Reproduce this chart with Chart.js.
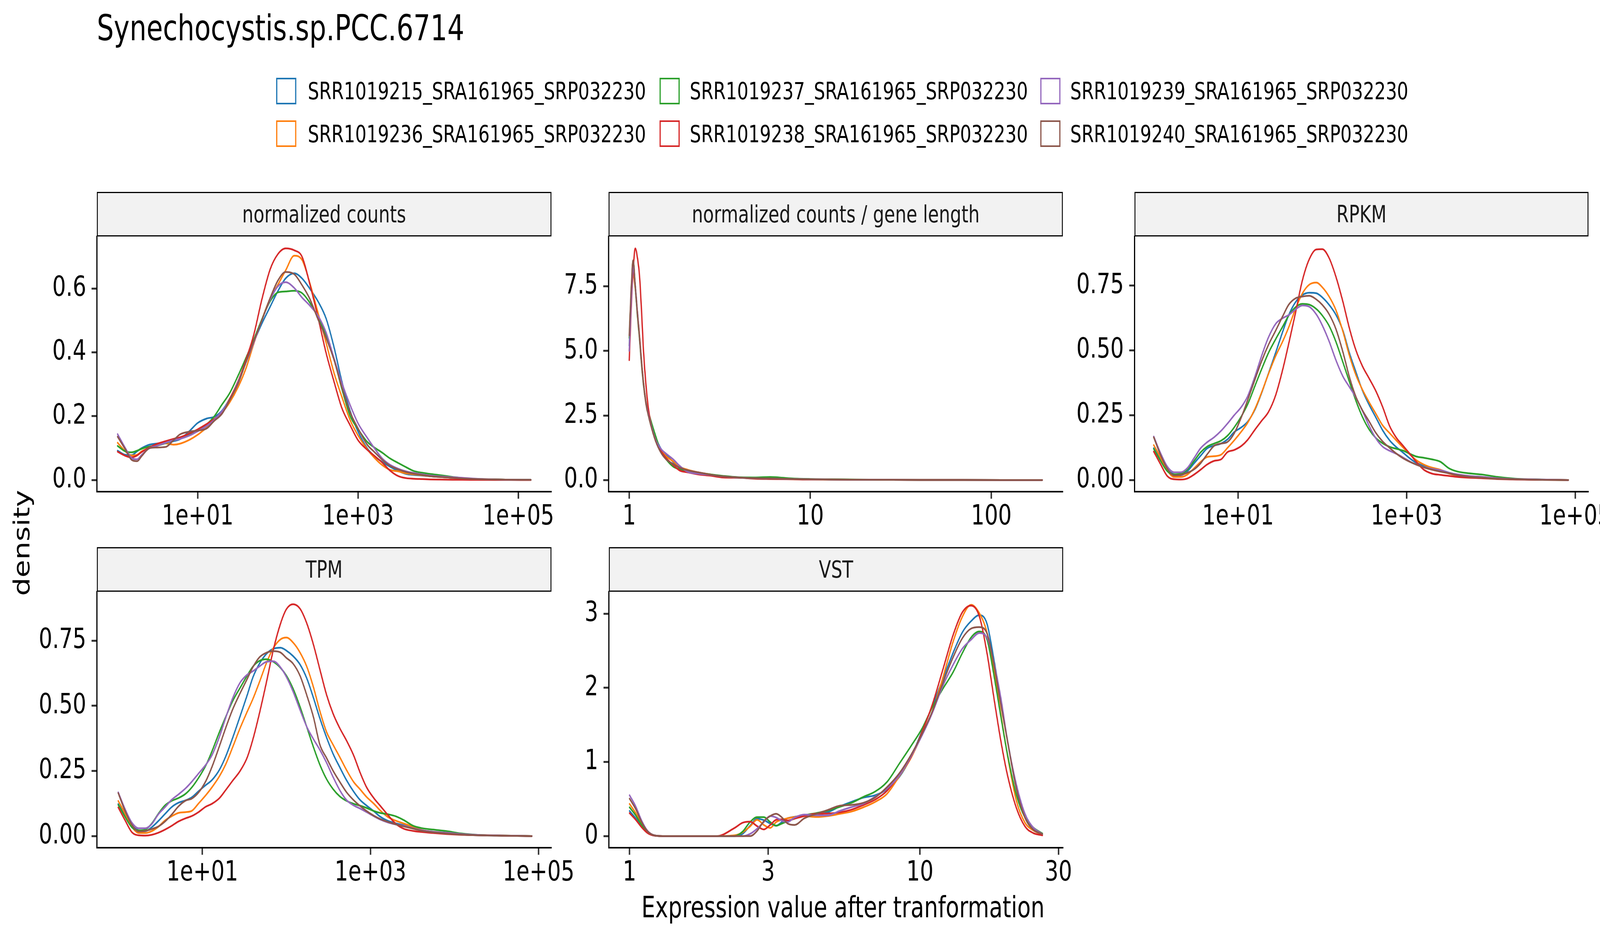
<!DOCTYPE html>
<html>
<head>
<meta charset="utf-8">
<title>Synechocystis.sp.PCC.6714</title>
<script src="https://cdn.jsdelivr.net/npm/chart.js@4.4.1/dist/chart.umd.min.js"></script>
<style>
  html, body { margin:0; padding:0; background:#ffffff; }
  body { position:relative; width:100vw; height:100vh; overflow:hidden; font-family:'DejaVu Sans', sans-serif; }
  #root { position:absolute; left:0; top:0; width:5400px; height:2400px; transform-origin:0 0; background:#ffffff; }
  canvas { position:absolute; }
  .t { position:absolute; white-space:nowrap; line-height:1; color:#000000; font-family:'DejaVu Sans', sans-serif; }
  .strip { position:absolute; box-sizing:border-box; background:#F2F2F2; border:3px solid #000000; font-size:60px; line-height:1; color:#1A1A1A; display:flex; align-items:center; justify-content:center; white-space:nowrap; font-family:'DejaVu Sans', sans-serif; }
  .key { position:absolute; box-sizing:border-box; width:68px; height:68px; background:#ffffff; border-style:solid; border-width:4.5px; }
</style>
</head>
<body>
<div id="root"></div>
<script>
// ---------------- DATA ----------------
const seriesNames = ['SRR1019215_SRA161965_SRP032230','SRR1019236_SRA161965_SRP032230','SRR1019237_SRA161965_SRP032230','SRR1019238_SRA161965_SRP032230','SRR1019239_SRA161965_SRP032230','SRR1019240_SRA161965_SRP032230'];
const plotTitle = 'Synechocystis.sp.PCC.6714';
const panelTitles = ['normalized counts','normalized counts / gene length','RPKM','TPM','VST'];
const xAxisTitle = 'Expression value after tranformation';
const yAxisTitle = 'density';

const logTicks = [10, 1000, 100000];
const logTickLabels = ['1e+01','1e+03','1e+05'];
const perLenXTicks = [1, 10, 100];
const perLenXTickLabels = ['1','10','100'];
const vstXTicks = [1, 3, 10, 30];
const vstXTickLabels = ['1','3','10','30'];
const countsYTicks = [0, 0.2, 0.4, 0.6];
const countsYTickLabels = ['0.0','0.2','0.4','0.6'];
const perLenYTicks = [0, 2.5, 5, 7.5];
const perLenYTickLabels = ['0.0','2.5','5.0','7.5'];
const rpkmYTicks = [0, 0.25, 0.5, 0.75];
const rpkmYTickLabels = ['0.00','0.25','0.50','0.75'];
const vstYTicks = [0, 1, 2, 3];
const vstYTickLabels = ['0','1','2','3'];

// normalized counts
const countsX = [1, 1.25, 1.5, 1.75, 2, 2.5, 3, 4, 5, 6, 8, 10, 13, 16, 20, 25, 32, 40, 50, 63, 80, 100, 125, 160, 200, 250, 320, 400, 500, 630, 800, 1000, 1300, 1600, 2000, 2500, 3200, 4000, 5000, 6300, 8000, 10000, 15000, 20000, 30000, 50000, 80000, 143000];
const counts215 = [0.092, 0.079, 0.078, 0.090, 0.100, 0.111, 0.114, 0.117, 0.122, 0.128, 0.155, 0.179, 0.193, 0.198, 0.217, 0.254, 0.310, 0.371, 0.432, 0.490, 0.543, 0.592, 0.632, 0.648, 0.632, 0.600, 0.558, 0.506, 0.418, 0.308, 0.215, 0.152, 0.100, 0.075, 0.057, 0.042, 0.028, 0.019, 0.016, 0.014, 0.012, 0.010, 0.007, 0.005, 0.003, 0.002, 0.001, 0.0005];
const counts236 = [0.117, 0.090, 0.077, 0.079, 0.090, 0.100, 0.109, 0.115, 0.111, 0.114, 0.127, 0.142, 0.165, 0.185, 0.210, 0.243, 0.292, 0.350, 0.427, 0.502, 0.569, 0.612, 0.657, 0.703, 0.690, 0.618, 0.520, 0.430, 0.337, 0.260, 0.187, 0.140, 0.097, 0.070, 0.047, 0.032, 0.027, 0.021, 0.018, 0.015, 0.012, 0.010, 0.007, 0.005, 0.003, 0.002, 0.001, 0.0005];
const counts237 = [0.107, 0.090, 0.087, 0.092, 0.098, 0.105, 0.107, 0.116, 0.126, 0.133, 0.145, 0.154, 0.175, 0.199, 0.236, 0.272, 0.328, 0.383, 0.440, 0.503, 0.560, 0.588, 0.591, 0.593, 0.586, 0.556, 0.507, 0.455, 0.380, 0.285, 0.200, 0.160, 0.120, 0.102, 0.086, 0.068, 0.053, 0.040, 0.028, 0.023, 0.019, 0.016, 0.010, 0.006, 0.003, 0.002, 0.001, 0.0005];
const counts238 = [0.089, 0.076, 0.071, 0.077, 0.088, 0.102, 0.112, 0.122, 0.129, 0.134, 0.147, 0.159, 0.176, 0.191, 0.212, 0.254, 0.310, 0.377, 0.455, 0.565, 0.660, 0.708, 0.726, 0.720, 0.700, 0.615, 0.505, 0.398, 0.310, 0.225, 0.171, 0.125, 0.095, 0.076, 0.055, 0.030, 0.012, 0.006, 0.004, 0.003, 0.002, 0.0015, 0.001, 0.001, 0.0005, 0.0003, 0.0002, 0.0001];
const counts239 = [0.144, 0.100, 0.069, 0.065, 0.079, 0.100, 0.106, 0.117, 0.125, 0.129, 0.140, 0.153, 0.170, 0.188, 0.215, 0.250, 0.307, 0.368, 0.430, 0.500, 0.565, 0.607, 0.620, 0.602, 0.572, 0.547, 0.513, 0.462, 0.383, 0.304, 0.234, 0.178, 0.133, 0.100, 0.068, 0.048, 0.035, 0.027, 0.022, 0.018, 0.014, 0.012, 0.009, 0.007, 0.004, 0.002, 0.001, 0.0005];
const counts240 = [0.136, 0.096, 0.063, 0.059, 0.075, 0.100, 0.102, 0.104, 0.125, 0.143, 0.152, 0.155, 0.162, 0.185, 0.207, 0.250, 0.303, 0.370, 0.435, 0.500, 0.570, 0.625, 0.652, 0.645, 0.611, 0.568, 0.501, 0.445, 0.378, 0.290, 0.212, 0.162, 0.111, 0.088, 0.064, 0.045, 0.033, 0.025, 0.020, 0.016, 0.012, 0.010, 0.007, 0.005, 0.003, 0.002, 0.001, 0.0005];

// normalized counts / gene length
const perLenX = [1, 1.03, 1.05, 1.08, 1.11, 1.14, 1.17, 1.2, 1.24, 1.28, 1.33, 1.4, 1.5, 1.6, 1.75, 1.9, 2.1, 2.4, 2.8, 3.3, 4, 5, 6, 8, 10, 13, 18, 25, 40, 70, 120, 191];
const perLen215 = [5.2, 7.4, 8.35, 7.5, 6.45, 5.55, 4.55, 3.75, 3.0, 2.6, 2.15, 1.65, 1.2, 0.98, 0.70, 0.48, 0.36, 0.28, 0.19, 0.13, 0.09, 0.07, 0.05, 0.04, 0.03, 0.02, 0.015, 0.01, 0.005, 0.003, 0.002, 0.001];
const perLen236 = [5.0, 7.1, 7.95, 7.4, 6.5, 5.6, 4.6, 3.75, 3.0, 2.6, 2.1, 1.6, 1.15, 0.92, 0.72, 0.52, 0.40, 0.30, 0.22, 0.13, 0.10, 0.06, 0.05, 0.035, 0.025, 0.02, 0.015, 0.01, 0.005, 0.003, 0.002, 0.001];
const perLen237 = [5.5, 7.6, 8.5, 7.45, 6.35, 5.45, 4.45, 3.65, 2.95, 2.6, 2.2, 1.7, 1.1, 0.80, 0.52, 0.42, 0.35, 0.28, 0.22, 0.16, 0.11, 0.10, 0.12, 0.06, 0.04, 0.03, 0.02, 0.012, 0.006, 0.003, 0.002, 0.001];
const perLen238 = [4.64, 7.0, 8.1, 8.97, 8.6, 7.9, 6.5, 4.95, 3.6, 2.7, 2.05, 1.55, 1.12, 0.85, 0.58, 0.37, 0.30, 0.22, 0.17, 0.10, 0.09, 0.05, 0.04, 0.03, 0.02, 0.02, 0.015, 0.01, 0.005, 0.003, 0.002, 0.001];
const perLen239 = [5.0, 7.2, 8.25, 7.5, 6.5, 5.55, 4.55, 3.7, 2.95, 2.5, 2.05, 1.55, 1.2, 1.02, 0.80, 0.55, 0.32, 0.25, 0.20, 0.14, 0.10, 0.07, 0.06, 0.04, 0.035, 0.02, 0.015, 0.01, 0.005, 0.003, 0.002, 0.001];
const perLen240 = [5.6, 7.7, 8.5, 7.5, 6.4, 5.5, 4.5, 3.7, 2.9, 2.45, 2.0, 1.5, 1.05, 0.80, 0.62, 0.48, 0.38, 0.30, 0.21, 0.14, 0.10, 0.07, 0.06, 0.04, 0.03, 0.02, 0.015, 0.01, 0.005, 0.003, 0.002, 0.001];

// RPKM
const rpkmX = [1, 1.2, 1.45, 1.75, 2.1, 2.5, 3, 3.6, 4.3, 5.2, 6.3, 7.5, 9, 11, 13, 16, 19, 23, 28, 34, 40, 48, 58, 70, 85, 100, 120, 145, 175, 210, 250, 300, 360, 430, 520, 630, 750, 900, 1100, 1300, 1600, 2000, 2500, 3200, 4000, 5500, 8000, 12000, 20000, 40000, 83000];
const rpkm215 = [0.123, 0.080, 0.040, 0.022, 0.019, 0.034, 0.064, 0.094, 0.122, 0.133, 0.141, 0.157, 0.185, 0.204, 0.225, 0.274, 0.335, 0.412, 0.492, 0.574, 0.637, 0.686, 0.714, 0.723, 0.721, 0.705, 0.677, 0.638, 0.578, 0.490, 0.418, 0.345, 0.290, 0.243, 0.192, 0.153, 0.128, 0.107, 0.083, 0.067, 0.054, 0.046, 0.039, 0.028, 0.020, 0.014, 0.009, 0.005, 0.003, 0.001, 0.0];
const rpkm236 = [0.135, 0.088, 0.037, 0.012, 0.012, 0.021, 0.045, 0.070, 0.089, 0.092, 0.098, 0.124, 0.153, 0.188, 0.221, 0.277, 0.337, 0.410, 0.479, 0.536, 0.590, 0.660, 0.720, 0.754, 0.762, 0.744, 0.709, 0.656, 0.575, 0.480, 0.406, 0.348, 0.300, 0.257, 0.211, 0.181, 0.154, 0.127, 0.098, 0.077, 0.060, 0.048, 0.040, 0.025, 0.018, 0.012, 0.008, 0.005, 0.003, 0.001, 0.0];
const rpkm237 = [0.120, 0.075, 0.034, 0.022, 0.025, 0.040, 0.073, 0.107, 0.129, 0.141, 0.152, 0.171, 0.203, 0.247, 0.292, 0.366, 0.427, 0.491, 0.544, 0.593, 0.635, 0.667, 0.680, 0.677, 0.660, 0.635, 0.596, 0.534, 0.456, 0.379, 0.307, 0.243, 0.195, 0.163, 0.142, 0.128, 0.121, 0.114, 0.101, 0.091, 0.086, 0.080, 0.071, 0.045, 0.033, 0.026, 0.021, 0.012, 0.005, 0.002, 0.0];
const rpkm238 = [0.110, 0.062, 0.015, 0.003, 0.002, 0.006, 0.021, 0.040, 0.060, 0.074, 0.080, 0.108, 0.116, 0.132, 0.155, 0.196, 0.228, 0.263, 0.328, 0.428, 0.527, 0.644, 0.770, 0.852, 0.890, 0.891, 0.858, 0.785, 0.690, 0.585, 0.502, 0.439, 0.392, 0.345, 0.282, 0.208, 0.165, 0.134, 0.100, 0.071, 0.040, 0.025, 0.020, 0.016, 0.012, 0.009, 0.007, 0.004, 0.002, 0.001, 0.0];
const rpkm239 = [0.168, 0.105, 0.052, 0.030, 0.030, 0.046, 0.084, 0.123, 0.146, 0.165, 0.190, 0.218, 0.250, 0.283, 0.323, 0.403, 0.478, 0.551, 0.603, 0.625, 0.637, 0.658, 0.674, 0.669, 0.639, 0.597, 0.537, 0.463, 0.401, 0.359, 0.319, 0.266, 0.209, 0.162, 0.129, 0.113, 0.102, 0.088, 0.071, 0.060, 0.050, 0.043, 0.038, 0.028, 0.022, 0.016, 0.012, 0.007, 0.004, 0.002, 0.0];
const rpkm240 = [0.165, 0.098, 0.044, 0.018, 0.020, 0.028, 0.041, 0.065, 0.099, 0.132, 0.141, 0.147, 0.180, 0.244, 0.308, 0.391, 0.458, 0.522, 0.577, 0.633, 0.677, 0.701, 0.708, 0.711, 0.697, 0.676, 0.641, 0.583, 0.496, 0.397, 0.322, 0.269, 0.226, 0.183, 0.149, 0.124, 0.103, 0.085, 0.070, 0.060, 0.049, 0.040, 0.033, 0.026, 0.019, 0.013, 0.009, 0.005, 0.003, 0.001, 0.0];

// TPM
const tpmX = [1, 1.2, 1.45, 1.75, 2.1, 2.5, 3, 3.6, 4.3, 5.2, 6.3, 7.5, 9, 11, 13, 16, 19, 23, 28, 34, 40, 48, 58, 70, 85, 100, 120, 145, 175, 210, 250, 300, 360, 430, 520, 630, 750, 900, 1100, 1300, 1600, 2000, 2500, 3200, 4000, 5500, 8000, 12000, 20000, 40000, 83000];
const tpm215 = [0.123, 0.080, 0.040, 0.022, 0.019, 0.034, 0.058, 0.085, 0.111, 0.128, 0.137, 0.149, 0.172, 0.196, 0.215, 0.255, 0.306, 0.378, 0.458, 0.539, 0.610, 0.663, 0.700, 0.719, 0.723, 0.712, 0.691, 0.659, 0.605, 0.530, 0.452, 0.379, 0.315, 0.265, 0.214, 0.171, 0.139, 0.117, 0.095, 0.075, 0.059, 0.049, 0.042, 0.032, 0.023, 0.016, 0.010, 0.006, 0.003, 0.0015, 0.0];
const tpm236 = [0.135, 0.088, 0.037, 0.012, 0.012, 0.019, 0.036, 0.060, 0.076, 0.089, 0.092, 0.097, 0.125, 0.157, 0.187, 0.230, 0.276, 0.342, 0.413, 0.476, 0.527, 0.593, 0.665, 0.722, 0.755, 0.762, 0.743, 0.705, 0.650, 0.571, 0.480, 0.400, 0.350, 0.304, 0.253, 0.208, 0.180, 0.150, 0.124, 0.099, 0.074, 0.059, 0.048, 0.036, 0.024, 0.016, 0.010, 0.006, 0.004, 0.002, 0.0];
const tpm237 = [0.120, 0.075, 0.034, 0.022, 0.025, 0.048, 0.086, 0.118, 0.135, 0.146, 0.162, 0.187, 0.223, 0.271, 0.325, 0.400, 0.458, 0.519, 0.568, 0.615, 0.651, 0.673, 0.679, 0.669, 0.646, 0.616, 0.566, 0.497, 0.418, 0.341, 0.274, 0.219, 0.180, 0.153, 0.135, 0.124, 0.117, 0.108, 0.096, 0.089, 0.084, 0.076, 0.061, 0.040, 0.031, 0.025, 0.019, 0.010, 0.004, 0.002, 0.0];
const tpm238 = [0.110, 0.062, 0.015, 0.003, 0.002, 0.005, 0.013, 0.025, 0.039, 0.056, 0.068, 0.077, 0.092, 0.113, 0.124, 0.146, 0.177, 0.213, 0.249, 0.300, 0.372, 0.474, 0.592, 0.716, 0.815, 0.871, 0.890, 0.873, 0.816, 0.734, 0.640, 0.543, 0.469, 0.415, 0.366, 0.310, 0.245, 0.187, 0.145, 0.117, 0.082, 0.047, 0.028, 0.020, 0.016, 0.012, 0.008, 0.005, 0.003, 0.0015, 0.0];
const tpm239 = [0.168, 0.105, 0.052, 0.030, 0.030, 0.046, 0.084, 0.111, 0.139, 0.160, 0.183, 0.209, 0.240, 0.274, 0.310, 0.382, 0.455, 0.530, 0.588, 0.619, 0.633, 0.652, 0.669, 0.671, 0.648, 0.611, 0.555, 0.485, 0.419, 0.372, 0.331, 0.282, 0.226, 0.177, 0.138, 0.118, 0.106, 0.092, 0.076, 0.064, 0.053, 0.045, 0.039, 0.030, 0.023, 0.017, 0.013, 0.008, 0.004, 0.002, 0.0];
const tpm240 = [0.165, 0.098, 0.044, 0.018, 0.020, 0.027, 0.037, 0.056, 0.082, 0.114, 0.136, 0.144, 0.167, 0.211, 0.265, 0.346, 0.416, 0.487, 0.547, 0.602, 0.649, 0.687, 0.704, 0.710, 0.705, 0.684, 0.662, 0.616, 0.540, 0.456, 0.351, 0.300, 0.250, 0.209, 0.168, 0.138, 0.116, 0.096, 0.078, 0.066, 0.055, 0.045, 0.037, 0.029, 0.021, 0.015, 0.010, 0.006, 0.003, 0.0015, 0.0];

// VST
const vstX = [1, 1.05, 1.1, 1.15, 1.2, 1.3, 1.6, 2.0, 2.3, 2.45, 2.6, 2.75, 2.9, 3.05, 3.2, 3.35, 3.5, 3.7, 4, 4.4, 4.8, 5.3, 5.8, 6.4, 7, 7.7, 8.5, 9.3, 10.2, 11, 12, 13, 14, 15, 16, 17, 18, 19, 20, 21.5, 23, 24.5, 26.4];
const vst215 = [0.339, 0.24, 0.13, 0.048, 0.012, 0, 0, 0, 0, 0.03, 0.14, 0.235, 0.215, 0.17, 0.14, 0.19, 0.24, 0.26, 0.278, 0.29, 0.32, 0.40, 0.46, 0.52, 0.55, 0.63, 0.80, 1.06, 1.43, 1.74, 2.12, 2.47, 2.75, 2.90, 2.98, 2.87, 2.37, 1.82, 1.30, 0.64, 0.25, 0.09, 0.02];
const vst236 = [0.434, 0.31, 0.165, 0.06, 0.015, 0, 0, 0, 0.01, 0.05, 0.13, 0.22, 0.15, 0.11, 0.19, 0.22, 0.24, 0.258, 0.27, 0.258, 0.27, 0.30, 0.33, 0.39, 0.46, 0.57, 0.81, 1.05, 1.38, 1.67, 2.14, 2.62, 2.96, 3.12, 3.01, 2.75, 2.24, 1.64, 1.10, 0.47, 0.18, 0.08, 0.02];
const vst237 = [0.388, 0.28, 0.15, 0.054, 0.014, 0, 0, 0, 0, 0.06, 0.19, 0.255, 0.255, 0.19, 0.14, 0.17, 0.20, 0.235, 0.28, 0.31, 0.343, 0.395, 0.447, 0.53, 0.60, 0.73, 0.98, 1.21, 1.46, 1.73, 1.99, 2.21, 2.47, 2.68, 2.76, 2.66, 2.16, 1.61, 1.11, 0.55, 0.25, 0.12, 0.035];
const vst238 = [0.31, 0.22, 0.12, 0.045, 0.012, 0, 0, 0, 0.11, 0.18, 0.195, 0.134, 0.09, 0.15, 0.22, 0.225, 0.21, 0.235, 0.27, 0.303, 0.305, 0.32, 0.355, 0.42, 0.49, 0.61, 0.83, 1.06, 1.42, 1.76, 2.25, 2.71, 3.02, 3.11, 2.97, 2.48, 1.85, 1.28, 0.83, 0.376, 0.13, 0.043, 0.01];
const vst239 = [0.551, 0.40, 0.21, 0.077, 0.019, 0, 0, 0, 0, 0, 0.03, 0.10, 0.19, 0.27, 0.25, 0.205, 0.19, 0.25, 0.29, 0.28, 0.28, 0.34, 0.39, 0.44, 0.53, 0.64, 0.82, 1.07, 1.37, 1.65, 2.03, 2.31, 2.53, 2.65, 2.74, 2.68, 2.33, 1.86, 1.30, 0.69, 0.30, 0.12, 0.027];
const vst240 = [0.505, 0.365, 0.19, 0.07, 0.018, 0, 0, 0, 0, 0, 0, 0.07, 0.20, 0.27, 0.30, 0.25, 0.17, 0.15, 0.24, 0.30, 0.35, 0.41, 0.42, 0.45, 0.52, 0.66, 0.85, 1.09, 1.39, 1.67, 2.07, 2.41, 2.67, 2.80, 2.82, 2.74, 2.30, 1.77, 1.29, 0.63, 0.25, 0.09, 0.027];

// ---------------- STYLE / LAYOUT ----------------
const seriesColors = ['#1F77B4','#FF7F0E','#2CA02C','#D62728','#9467BD','#8C564B'];
Chart.defaults.font.family = 'DejaVu Sans';

const root = document.getElementById('root');
function fitRoot() {
  const vw = window.innerWidth || document.documentElement.clientWidth || 5400;
  const vh = window.innerHeight || document.documentElement.clientHeight || 2400;
  root.style.transform = 'scale(' + (vw / 5400) + ',' + (vh / 2400) + ')';
}
fitRoot();
window.addEventListener('resize', fitRoot);

function addText(str, left, baseline, size, extra) {
  const d = document.createElement('div');
  d.className = 't';
  d.textContent = str;
  d.style.fontSize = size + 'px';
  d.style.left = left + 'px';
  d.style.top = (baseline - 0.846 * size) + 'px';
  if (extra) Object.assign(d.style, extra);
  root.appendChild(d);
  return d;
}

// title
addText(plotTitle, 327, 103, 90);

// legend (filled by column, 2 rows)
const keyLefts = [932, 2226, 3511];
const textLefts = [1039, 2328, 3612];
const keyTops = [199, 308];
const textBaselines = [254, 364];
seriesNames.forEach((name, i) => {
  const col = Math.floor(i / 2), row = i % 2;
  const k = document.createElement('div');
  k.className = 'key';
  k.style.left = keyLefts[col] + 'px';
  k.style.top = keyTops[row] + 'px';
  k.style.borderColor = seriesColors[i];
  root.appendChild(k);
  addText(name, textLefts[col], textBaselines[row], 60);
});

// axis titles
addText(xAxisTitle, 2845, 2347, 74, { transform: 'translateX(-50%)' });
const yt = document.createElement('div');
yt.className = 't';
yt.textContent = yAxisTitle;
yt.style.fontSize = '74px';
yt.style.left = '73px';
yt.style.top = '1389px';
yt.style.transform = 'translate(-50%,-50%) rotate(-90deg)';
root.appendChild(yt);

const panels = [
  { title: panelTitles[0], L: 327, R: 1861, T: 605, B: 1258, ER: 100,
    x: countsX, ys: [counts215, counts236, counts237, counts238, counts239, counts240],
    xmin: 0.5521, xmax: 258800, xticks: logTicks, xlabels: logTickLabels,
    ymin: -0.0364, ymax: 0.7634, yticks: countsYTicks, ylabels: countsYTickLabels },
  { title: panelTitles[1], L: 2054, R: 3587, T: 605, B: 1258, ER: 100,
    x: perLenX, ys: [perLen215, perLen236, perLen237, perLen238, perLen239, perLen240],
    xmin: 0.7691, xmax: 248.3, xticks: perLenXTicks, xlabels: perLenXTickLabels,
    ymin: -0.449, ymax: 9.43, yticks: perLenYTicks, ylabels: perLenYTickLabels },
  { title: panelTitles[2], L: 3829, R: 5361, T: 605, B: 1258, ER: 39,
    x: rpkmX, ys: [rpkm215, rpkm236, rpkm237, rpkm238, rpkm239, rpkm240],
    xmin: 0.5916, xmax: 143900, xticks: logTicks, xlabels: logTickLabels,
    ymin: -0.0448, ymax: 0.940, yticks: rpkmYTicks, ylabels: rpkmYTickLabels },
  { title: panelTitles[3], L: 327, R: 1861, T: 1514, B: 2169, ER: 100,
    x: tpmX, ys: [tpm215, tpm236, tpm237, tpm238, tpm239, tpm240],
    xmin: 0.5572, xmax: 141900, xticks: logTicks, xlabels: logTickLabels,
    ymin: -0.0446, ymax: 0.938, yticks: rpkmYTicks, ylabels: rpkmYTickLabels },
  { title: panelTitles[4], L: 2055, R: 3588, T: 1514, B: 2169, ER: 100,
    x: vstX, ys: [vst215, vst236, vst237, vst238, vst239, vst240],
    xmin: 0.8489, xmax: 31.12, xticks: vstXTicks, xlabels: vstXTickLabels,
    ymin: -0.157, ymax: 3.297, yticks: vstYTicks, ylabels: vstYTickLabels }
];

const STRIP_H = 114;
const YW = 250, XH = 150, PT = 60, PL = 10, PB = 10;

panels.forEach(p => {
  const s = document.createElement('div');
  s.className = 'strip';
  s.style.left = p.L + 'px';
  s.style.top = (p.T - STRIP_H) + 'px';
  s.style.width = (p.R - p.L) + 'px';
  s.style.height = STRIP_H + 'px';
  s.textContent = p.title;
  root.appendChild(s);

  const w = (p.R - p.L) + PL + YW + p.ER;
  const h = (p.B - p.T) + PT + XH + PB;
  const cv = document.createElement('canvas');
  cv.width = w; cv.height = h;
  cv.style.left = (p.L - PL - YW) + 'px';
  cv.style.top = (p.T - PT) + 'px';
  cv.style.width = w + 'px';
  cv.style.height = h + 'px';
  root.appendChild(cv);

  const datasets = p.ys.map((ys, i) => ({
    label: seriesNames[i],
    data: p.x.map((xv, j) => ({ x: xv, y: ys[j] })),
    borderColor: seriesColors[i],
    backgroundColor: seriesColors[i],
    borderWidth: 4.5,
    pointRadius: 0,
    pointHoverRadius: 0,
    fill: false,
    cubicInterpolationMode: 'monotone',
    borderJoinStyle: 'round',
    borderCapStyle: 'round',
    order: p.ys.length - 1 - i
  }));

  const tickFont = { family: 'DejaVu Sans', size: 72 };
  const gridOpts = { display: true, drawOnChartArea: false, drawTicks: true, tickLength: 18, tickWidth: 5, tickColor: '#333333' };

  new Chart(cv, {
    type: 'line',
    data: { datasets },
    options: {
      responsive: false,
      maintainAspectRatio: false,
      animation: false,
      devicePixelRatio: 1,
      events: [],
      layout: { padding: { left: PL, top: PT, right: p.ER, bottom: PB } },
      plugins: { legend: { display: false }, tooltip: { enabled: false }, title: { display: false } },
      scales: {
        x: {
          type: 'logarithmic', position: 'bottom', bounds: 'data',
          min: p.xmin, max: p.xmax,
          grid: gridOpts,
          border: { display: true, color: '#000000', width: 4 },
          ticks: { autoSkip: false, maxRotation: 0, minRotation: 0, padding: 4, color: '#000000', font: tickFont,
                   callback: (v, i) => p.xlabels[i] },
          afterBuildTicks: sc => { sc.ticks = p.xticks.map(v => ({ value: v })); },
          afterFit: sc => { sc.height = XH; sc.paddingLeft = 0; sc.paddingRight = 0; }
        },
        y: {
          type: 'linear', position: 'left', bounds: 'data',
          min: p.ymin, max: p.ymax,
          grid: gridOpts,
          border: { display: true, color: '#000000', width: 4 },
          ticks: { autoSkip: false, padding: 18, color: '#000000', font: tickFont,
                   callback: (v, i) => p.ylabels[i] },
          afterBuildTicks: sc => { sc.ticks = p.yticks.map(v => ({ value: v })); },
          afterFit: sc => { sc.width = YW; sc.paddingTop = 0; sc.paddingBottom = 0; }
        }
      }
    }
  });
});
</script>
</body>
</html>
